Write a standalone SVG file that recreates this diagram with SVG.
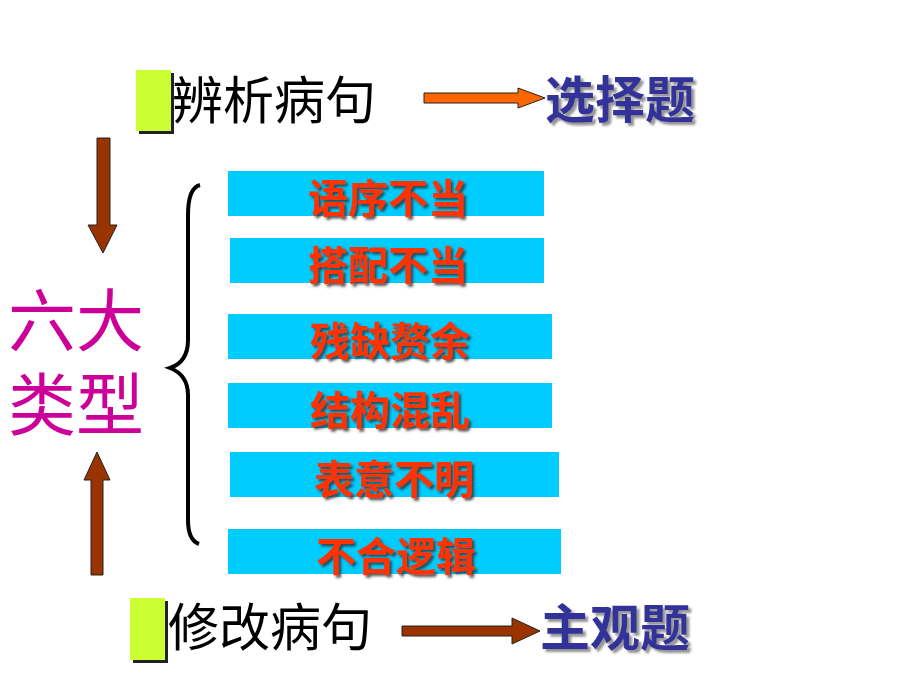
<svg xmlns="http://www.w3.org/2000/svg" width="920" height="690" viewBox="0 0 920 690">
<defs>
<filter id="ds" x="-10%" y="-20%" width="130%" height="150%"><feDropShadow dx="2.5" dy="2.5" stdDeviation="0.8" flood-color="#333" flood-opacity="0.8"/></filter>
<filter id="ds2" x="-10%" y="-20%" width="130%" height="150%"><feDropShadow dx="3" dy="3" stdDeviation="1" flood-color="#888" flood-opacity="0.9"/></filter>
<style>
.cn{font-family:"Noto Sans CJK SC","Noto Sans CJK JP",sans-serif}
.blk{font-size:51px;fill:#000}
.blue{font-size:50px;fill:#333399;font-weight:bold;filter:url(#ds2)}
.red{font-size:40px;fill:#ff3300;font-weight:bold;text-anchor:middle;filter:url(#ds)}
.box{fill:#00ccff}
.mag{font-size:68px;fill:#cc0099}
</style>
</defs>
<rect width="920" height="690" fill="#fff"/>
<g id="top">
<rect x="139" y="73" width="35" height="61" fill="#222"/>
<rect x="136" y="70" width="35" height="61" fill="#ccff33"/>
<text class="cn blk" x="172" y="119">辨析病句</text>
</g>
<g id="choice"><text class="cn blue" x="545" y="118">选择题</text></g>
<g id="bottom">
<rect x="133" y="601" width="35" height="62" fill="#222"/>
<rect x="130" y="598" width="35" height="62" fill="#ccff33"/>
<text class="cn blk" x="168" y="646">修改病句</text>
</g>
<g id="subj"><text class="cn blue" x="540" y="646">主观题</text></g>
<g id="six">
<text class="cn mag" x="8" y="346">六大</text>
<text class="cn mag" x="8" y="430">类型</text>
</g>
<g id="types">
<rect class="box" x="228" y="171" width="316" height="45"/>
<text class="cn red" x="388" y="213">语序不当</text>
<rect class="box" x="230" y="238" width="314" height="45"/>
<text class="cn red" x="388" y="280">搭配不当</text>
<rect class="box" x="228" y="314" width="324" height="45"/>
<text class="cn red" x="390" y="356">残缺赘余</text>
<rect class="box" x="228" y="383" width="324" height="45"/>
<text class="cn red" x="390" y="425">结构混乱</text>
<rect class="box" x="230" y="452" width="329" height="45"/>
<text class="cn red" x="394" y="494">表意不明</text>
<rect class="box" x="228" y="529" width="333" height="45"/>
<text class="cn red" x="396" y="571">不合逻辑</text>
</g>
<g id="connectors" stroke="#222" stroke-width="1">
<path d="M424,93 H518 V88 L545,98 L518,108 V103 H424 Z" fill="#ff6600"/>
<path d="M402,626 H512 V618 L540,631 L512,644 V636 H402 Z" fill="#993300"/>
<path d="M97,138 H110 V225 H117 L103,253 L88,225 H97 Z" fill="#993300"/>
<path d="M91,575 H103 V480 H110 L97,452 L84,480 H91 Z" fill="#993300"/>
<path d="M200,185 Q188,188 188,215 V340 Q188,362 170,368 Q188,375 188,395 V520 Q188,540 199,544" fill="none" stroke="#000" stroke-width="4"/>
</g>
</svg>
